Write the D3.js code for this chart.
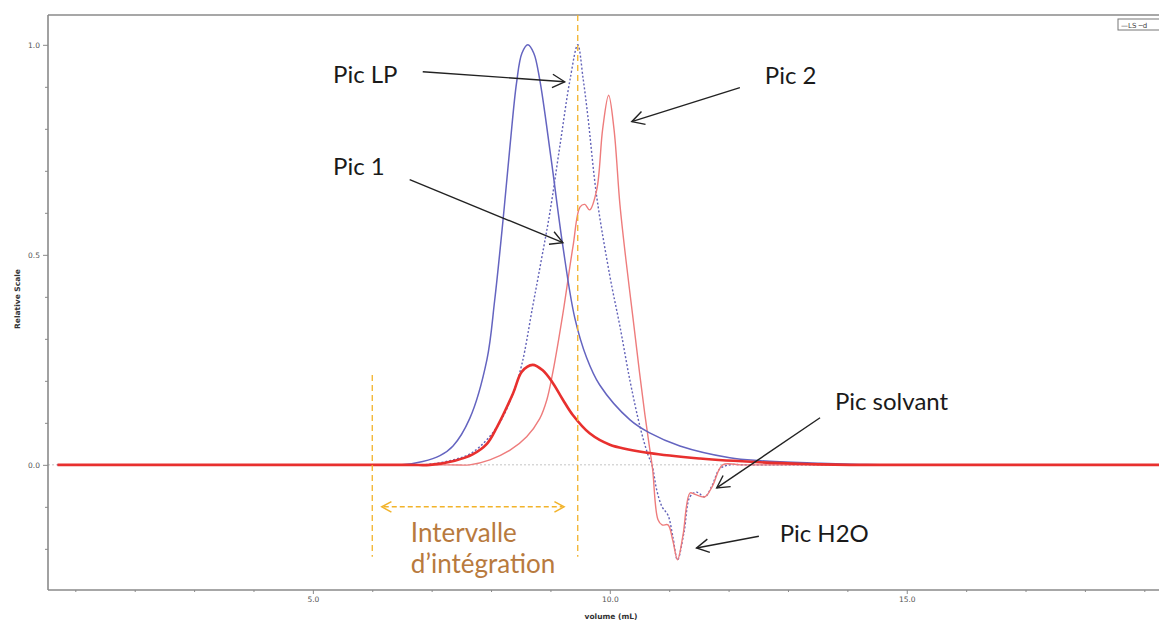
<!DOCTYPE html>
<html>
<head>
<meta charset="utf-8">
<script src="https://cdn.jsdelivr.net/npm/d3@7"></script>
<style>
    html, body { margin: 0; padding: 0; background: #fff; }
    svg { display: block; }
</style>
</head>
<body>
<div id="chart"></div>
<script>
(function () {

    'use strict';

    // [volume (mL), relative scale]
    var lsPoints = [
        [0.7, 0], [1.0, 0], [6.2, 0], [6.5, 0], [6.85, 0.008], [7.14, 0.022], [7.36, 0.045], [7.64, 0.11],
        [7.93, 0.25], [8.06, 0.39], [8.20, 0.58], [8.32, 0.76], [8.43, 0.91], [8.52, 0.98], [8.62, 1.0],
        [8.72, 0.98], [8.82, 0.917], [9.01, 0.73], [9.21, 0.52], [9.41, 0.35], [9.61, 0.255], [9.83, 0.19],
        [10.34, 0.107], [10.67, 0.076], [11.18, 0.045], [12.02, 0.017], [12.53, 0.01], [13.54, 0.004],
        [14.2, 0.001], [14.55, 0]
    ];

    var dPoints = [
        [0.7, 0], [1.0, 0], [6.5, 0], [6.85, 0], [7.31, 0.01], [7.69, 0.03], [8.10, 0.09], [8.37, 0.17],
        [8.52, 0.24], [8.70, 0.376], [8.85, 0.49], [8.99, 0.60], [9.16, 0.76], [9.33, 0.917], [9.46, 1.0],
        [9.55, 0.92], [9.63, 0.83], [9.78, 0.638], [10.0, 0.45], [10.17, 0.33], [10.34, 0.2], [10.51, 0.09],
        [10.64, 0.025], [10.71, 0.0], [10.79, -0.06], [10.88, -0.10], [10.98, -0.12], [11.06, -0.17],
        [11.14, -0.226], [11.25, -0.16], [11.35, -0.076], [11.46, -0.065], [11.60, -0.076], [11.72, -0.05],
        [11.85, -0.01], [12.02, 0], [12.3, 0], [14.2, 0], [14.55, 0]
    ];

    var thinRedPoints = [
        [0.7, 0], [1.0, 0], [7.3, 0], [7.64, 0], [7.98, 0.012], [8.32, 0.035], [8.60, 0.067], [8.82, 0.11],
        [8.94, 0.155], [9.04, 0.22], [9.21, 0.36], [9.38, 0.52], [9.50, 0.614], [9.58, 0.62], [9.66, 0.607],
        [9.78, 0.655], [9.88, 0.80], [9.98, 0.88], [10.07, 0.80], [10.17, 0.62], [10.27, 0.49], [10.39, 0.35],
        [10.50, 0.22], [10.59, 0.12], [10.66, 0.05], [10.72, -0.01], [10.81, -0.13], [10.88, -0.143],
        [10.98, -0.143], [11.06, -0.18], [11.14, -0.226], [11.23, -0.17], [11.35, -0.067], [11.43, -0.07],
        [11.60, -0.076], [11.73, -0.05], [11.90, 0], [12.2, 0], [15.7, 0], [16.0, 0]
    ];

    var thickRedPoints = [
        [0.7, 0], [1.0, 0], [6.6, 0], [6.97, 0], [7.39, 0.01], [7.69, 0.025], [7.93, 0.05], [8.10, 0.09],
        [8.37, 0.17], [8.52, 0.222], [8.70, 0.238], [8.87, 0.225], [9.04, 0.195], [9.21, 0.155], [9.38, 0.118],
        [9.66, 0.075], [10.0, 0.048], [10.67, 0.028], [11.52, 0.015], [12.53, 0.006], [13.3, 0.002],
        [14.04, 0], [14.5, 0], [19.2, 0], [19.6, 0]
    ];

    var xMajorTicks = [5, 10, 15];
    var xMinorTicks = [1, 2, 3, 4, 6, 7, 8, 9, 11, 12, 13, 14, 16, 17, 18, 19];
    var yMajorTicks = [0, 0.5, 1.0];
    var yMinorTicks = [-0.2, -0.1, 0.1, 0.2, 0.3, 0.4, 0.6, 0.7, 0.8, 0.9];

    // integration interval (mL)
    var intervalStart = 6.0;
    var intervalEnd = 9.46;

    // annotations: label position and arrow [from, to] in data units
    var peakLabels = ['Pic LP', 'Pic 2', 'Pic 1', 'Pic solvant', 'Pic H2O'];
    var peakLabelPos = [[5.34, 0.91], [12.61, 0.907], [5.34, 0.69], [13.79, 0.131], [12.86, -0.183]];
    var peakArrows = [
        [[6.85, 0.936], [9.24, 0.912]],
        [[12.19, 0.898], [10.37, 0.817]],
        [[6.63, 0.679], [9.21, 0.529]],
        [[13.54, 0.112], [11.80, -0.055]],
        [[12.51, -0.170], [11.46, -0.198]]
    ];

    var width = 1159;
    var height = 621;

    var drawChart = function () {

        var x = d3.scaleLinear().domain([0.54, 19.5]).range([48, 1174]);
        var y = d3.scaleLinear().domain([-0.298, 1.071]).range([590, 15]);

        var svg = d3.select('#chart')
            .append('svg')
                .attr('width', width)
                .attr('height', height);

        svg.append('defs').append('clipPath')
            .attr('id', 'plot-clip')
            .append('rect')
                .attr('x', 48)
                .attr('y', 15)
                .attr('width', width - 48)
                .attr('height', 575);

        var line = d3.line()
            .x(function (d) { return x(d[0]); })
            .y(function (d) { return y(d[1]); })
            .curve(d3.curveCatmullRom.alpha(0.5));

        var plot = svg.append('g').attr('clip-path', 'url(#plot-clip)');

        // zero line
        plot.append('line')
            .attr('x1', x(0.54)).attr('x2', x(19.5))
            .attr('y1', y(0)).attr('y2', y(0))
            .attr('stroke', '#c4c4c4')
            .attr('stroke-width', 1)
            .attr('stroke-dasharray', '2,2');

        plot.append('path')
            .datum(dPoints)
            .attr('d', line)
            .attr('fill', 'none')
            .attr('stroke', '#6262b8')
            .attr('stroke-width', 1.4)
            .attr('stroke-dasharray', '2,2');

        plot.append('path')
            .datum(thinRedPoints)
            .attr('d', line)
            .attr('fill', 'none')
            .attr('stroke', '#ee7c7c')
            .attr('stroke-width', 1.4);

        plot.append('path')
            .datum(lsPoints)
            .attr('d', line)
            .attr('fill', 'none')
            .attr('stroke', '#6464c0')
            .attr('stroke-width', 1.5);

        plot.append('path')
            .datum(thickRedPoints)
            .attr('d', line)
            .attr('fill', 'none')
            .attr('stroke', '#e8302e')
            .attr('stroke-width', 2.6);

        // frame + axes
        var axisColor = '#8a8a8a';

        svg.append('line')
            .attr('x1', 48).attr('x2', width)
            .attr('y1', 15).attr('y2', 15)
            .attr('stroke', axisColor).attr('stroke-width', 1.6);

        var yAxis = svg.append('g')
            .attr('transform', 'translate(48,0)')
            .call(d3.axisLeft(y).tickValues(yMajorTicks).tickSize(5).tickFormat(d3.format('.1f')));

        svg.append('g')
            .attr('transform', 'translate(48,0)')
            .call(d3.axisLeft(y).tickValues(yMinorTicks).tickSize(3).tickFormat(''))
            .select('.domain').remove();

        var xAxis = svg.append('g')
            .attr('transform', 'translate(0,590)')
            .call(d3.axisBottom(x).tickValues(xMajorTicks).tickSize(4).tickPadding(3).tickFormat(d3.format('.1f')));

        svg.append('g')
            .attr('transform', 'translate(0,590)')
            .call(d3.axisBottom(x).tickValues(xMinorTicks).tickSize(2).tickFormat(''))
            .select('.domain').remove();

        svg.selectAll('.domain, .tick line')
            .attr('stroke', axisColor);
        yAxis.select('.domain').attr('stroke-width', 1.6).attr('d', 'M0,15V590');
        xAxis.select('.domain').attr('stroke-width', 1.4).attr('d', 'M48,0H' + width);

        svg.selectAll('.tick text')
            .attr('fill', '#555')
            .style('font-family', 'DejaVu Sans, sans-serif')
            .style('font-size', '7.5px');

        svg.append('text')
            .attr('transform', 'translate(20,299) rotate(-90)')
            .attr('text-anchor', 'middle')
            .style('font-family', 'DejaVu Sans, sans-serif')
            .style('font-size', '7.5px')
            .style('font-weight', 'bold')
            .attr('fill', '#333')
            .text('Relative Scale');

        svg.append('text')
            .attr('x', 611)
            .attr('y', 619)
            .attr('text-anchor', 'middle')
            .style('font-family', 'DejaVu Sans, sans-serif')
            .style('font-size', '7.5px')
            .style('font-weight', 'bold')
            .attr('fill', '#333')
            .text('volume (mL)');

        // legend (cut at right edge)
        var legend = svg.append('g').attr('transform', 'translate(1118,19)');
        legend.append('rect')
            .attr('width', 60).attr('height', 11)
            .attr('fill', '#fff')
            .attr('stroke', '#777');
        legend.append('text')
            .attr('x', 3).attr('y', 8.5)
            .style('font-family', 'DejaVu Sans, sans-serif')
            .style('font-size', '7px')
            .attr('fill', '#444')
            .text('\u2014LS \u2504d');

        // integration interval
        var orange = '#f2b32a';

        svg.append('line')
            .attr('x1', x(intervalStart)).attr('x2', x(intervalStart))
            .attr('y1', y(0.214)).attr('y2', y(-0.219))
            .attr('stroke', orange).attr('stroke-width', 1.3)
            .attr('stroke-dasharray', '6,4');

        svg.append('line')
            .attr('x1', x(intervalEnd)).attr('x2', x(intervalEnd))
            .attr('y1', y(1.071)).attr('y2', y(-0.219))
            .attr('stroke', orange).attr('stroke-width', 1.3)
            .attr('stroke-dasharray', '6,4');

        var arrowHead = function (g, x1, y1, x2, y2, len, color, width) {
            var a = Math.atan2(y2 - y1, x2 - x1);
            var spread = 0.5;
            g.append('path')
                .attr('d', 'M' + (x2 - len * Math.cos(a - spread)) + ',' + (y2 - len * Math.sin(a - spread)) +
                    'L' + x2 + ',' + y2 +
                    'L' + (x2 - len * Math.cos(a + spread)) + ',' + (y2 - len * Math.sin(a + spread)))
                .attr('fill', 'none')
                .attr('stroke', color)
                .attr('stroke-width', width);
        };

        var spanY = y(-0.1);
        var spanG = svg.append('g');
        spanG.append('line')
            .attr('x1', x(6.16) + 2).attr('x2', x(9.23) - 2)
            .attr('y1', spanY).attr('y2', spanY)
            .attr('stroke', orange).attr('stroke-width', 1.5)
            .attr('stroke-dasharray', '5,3');
        arrowHead(spanG, x(9.23) - 20, spanY, x(9.23), spanY, 11, orange, 1.5);
        arrowHead(spanG, x(6.16) + 20, spanY, x(6.16), spanY, 11, orange, 1.5);

        svg.append('text')
            .attr('x', x(6.65)).attr('y', y(-0.183))
            .style('font-family', 'Lato, sans-serif')
            .style('font-size', '26px')
            .attr('fill', '#b87a3e')
            .text('Intervalle');

        svg.append('text')
            .attr('x', x(6.65)).attr('y', y(-0.257))
            .style('font-family', 'Lato, sans-serif')
            .style('font-size', '26px')
            .attr('fill', '#b87a3e')
            .text('d\u2019int\u00e9gration');

        // peak annotations
        var annG = svg.append('g');
        var i;
        for (i = 0; i < peakLabels.length; i++) {
            annG.append('text')
                .attr('x', x(peakLabelPos[i][0]))
                .attr('y', y(peakLabelPos[i][1]))
                .style('font-family', 'Lato, sans-serif')
                .style('font-size', '24px')
                .attr('fill', '#1a1a1a')
                .text(peakLabels[i]);

            var from = peakArrows[i][0];
            var to = peakArrows[i][1];
            annG.append('line')
                .attr('x1', x(from[0])).attr('y1', y(from[1]))
                .attr('x2', x(to[0])).attr('y2', y(to[1]))
                .attr('stroke', '#222')
                .attr('stroke-width', 1.4);
            arrowHead(annG, x(from[0]), y(from[1]), x(to[0]), y(to[1]), 14, '#222', 1.4);
        }

    };

    var init = function () {
        drawChart();
    };

    init();

}());
</script>
</body>
</html>
